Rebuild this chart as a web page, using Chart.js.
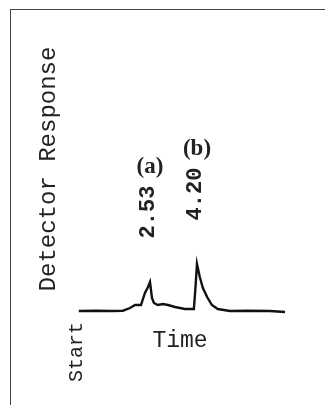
<!DOCTYPE html>
<html>
<head>
<meta charset="utf-8">
<script src="https://cdn.jsdelivr.net/npm/chart.js@4"></script>
<style>
  body { margin: 0; background: #fff; }
  #wrap { position: relative; width: 325px; height: 405px; overflow: hidden; }
  #frame { position: absolute; left: 10px; top: 9px; width: 400px; height: 500px;
           border-left: 1px solid #444; border-top: 1px solid #444; }
  #chart { position: absolute; left: 0; top: 0; }
</style>
</head>
<body>
<div id="wrap">
  <div id="frame"></div>
  <canvas id="chart" width="325" height="405"></canvas>
</div>
<script>
// retention time (min) and detector response
var times = [0, 0.6, 1.2, 1.57, 1.82, 2.00, 2.21, 2.35, 2.46, 2.53, 2.60, 2.67, 2.81, 2.99, 3.17, 3.42, 3.77, 4.09, 4.15, 4.20, 4.30, 4.41, 4.56, 4.73, 4.94, 5.37, 6.0, 6.79, 7.33];
var response = [0, 0.3, 0, 0.3, 3, 6, 6, 18, 24, 29, 13, 8, 6, 7, 6, 4, 2, 2, 25, 47, 34, 23, 14, 6, 2, 0, 0.3, 0, -1];

var peakNames = ['(a)', '(b)'];
var peakTimes = [2.53, 4.20];
var peakHeights = [29, 47];
var peakLabels = ['2.53', '4.20'];

var mono = "'Liberation Mono', 'Courier New', monospace";

function rotText(ctx, txt, x, y) {
    ctx.save();
    ctx.translate(x, y);
    ctx.rotate(-Math.PI / 2);
    ctx.fillText(txt, 0, 0);
    ctx.restore();
}

var labelsPlugin = {
    id: 'labels',
    afterDraw: function(chart) {
        var ctx = chart.ctx;
        var xs = chart.scales.x, ys = chart.scales.y, area = chart.chartArea;
        var base = ys.getPixelForValue(0);
        ctx.save();
        ctx.fillStyle = '#222';
        ctx.textAlign = 'center';
        ctx.textBaseline = 'middle';

        ctx.font = '24px ' + mono;
        rotText(ctx, 'Detector Response', 49, (area.top + area.bottom) / 2);
        ctx.font = '23px ' + mono;
        ctx.fillText('Time', (area.left + area.right) / 2, base + 30);

        ctx.font = '20px ' + mono;
        rotText(ctx, 'Start', xs.getPixelForValue(times[0]) - 2, base + 41);

        for (var i = 0; i < peakTimes.length; i++) {
            var px = xs.getPixelForValue(peakTimes[i]);
            var py = ys.getPixelForValue(peakHeights[i]);
            ctx.font = 'bold 22px ' + mono;
            rotText(ctx, peakLabels[i], px - 2, py - 70);
            ctx.font = 'bold 23px "Liberation Serif", "Times New Roman", serif';
            ctx.fillText(peakNames[i], px, py - 115);
        }
        ctx.restore();
    }
};

var points = times.map(function(t, i) { return { x: t, y: response[i] }; });

new Chart(document.getElementById('chart').getContext('2d'), {
    type: 'line',
    data: {
        datasets: [{
            data: points,
            borderColor: '#111',
            borderWidth: 2.4,
            pointRadius: 0,
            tension: 0,
            fill: false
        }]
    },
    options: {
        responsive: false,
        animation: false,
        layout: { padding: { left: 60, right: 25, top: 18, bottom: 85 } },
        plugins: { legend: { display: false }, tooltip: { enabled: false } },
        scales: {
            x: { type: 'linear', display: false, min: -0.668, max: 7.861 },
            y: { display: false, min: -9, max: 293 }
        }
    },
    plugins: [labelsPlugin]
});
</script>
</body>
</html>
